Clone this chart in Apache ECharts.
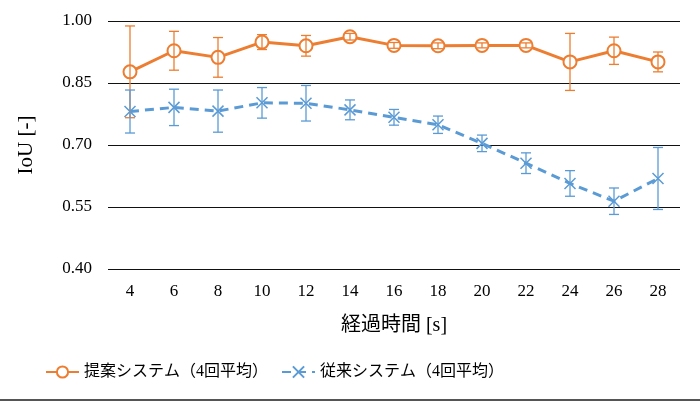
<!DOCTYPE html>
<html>
<head>
<meta charset="utf-8">
<script src="https://cdn.jsdelivr.net/npm/echarts@6/dist/echarts.min.js"></script>
<style>
html,body{margin:0;padding:0;background:#fff;}
#chart{width:700px;height:401px;}
</style>
</head>
<body>
<div id="chart"></div>
<script>
const times = ['4','6','8','10','12','14','16','18','20','22','24','26','28'];
const proposedMean = [0.877,0.928,0.912,0.949,0.940,0.962,0.941,0.940,0.941,0.941,0.901,0.928,0.901];
const proposedErr  = [0.111,0.047,0.048,0.018,0.025,0.008,0.007,0.007,0.006,0.006,0.069,0.033,0.024];
const conventionalMean = [0.781,0.791,0.782,0.802,0.801,0.785,0.767,0.749,0.704,0.656,0.607,0.564,0.619];
const conventionalErr  = [0.052,0.044,0.051,0.037,0.043,0.024,0.019,0.021,0.020,0.025,0.031,0.032,0.075];
const yTicks = {min:0.40, max:1.00, interval:0.15};
const seriesNames = ['提案システム（4回平均）','従来システム（4回平均）'];

const ORANGE = '#ED7D31';
const BLUE = '#5B9BD5';
const FONT = '"Liberation Serif", "Noto Sans CJK JP", serif';

function errData(mean, err){
  return mean.map((m,i)=>[i, m-err[i], m+err[i]]);
}
function errRender(color){
  return function(params, api){
    const x = api.value(0);
    const lo = api.coord([x, api.value(1)]);
    const hi = api.coord([x, api.value(2)]);
    const hw = 5;
    const st = {stroke: color, lineWidth: 1.3};
    return {type:'group', children:[
      {type:'line', shape:{x1:lo[0],y1:lo[1],x2:hi[0],y2:hi[1]}, style:st},
      {type:'line', shape:{x1:lo[0]-hw,y1:lo[1],x2:lo[0]+hw,y2:lo[1]}, style:st},
      {type:'line', shape:{x1:hi[0]-hw,y1:hi[1],x2:hi[0]+hw,y2:hi[1]}, style:st}
    ]};
  };
}

const chart = echarts.init(document.getElementById('chart'));
chart.setOption({
  animation:false,
  backgroundColor:'#fff',
  textStyle:{fontFamily:FONT, color:'#000'},
  grid:{left:108,right:20,top:21,bottom:132},
  legend:{
    data:seriesNames,
    left:40, top:359,
    itemWidth:33, itemHeight:14, itemGap:13,
    textStyle:{fontFamily:FONT, fontSize:16, color:'#000'}
  },
  xAxis:{
    type:'category', data:times,
    axisLine:{show:false}, axisTick:{show:false},
    axisLabel:{fontFamily:FONT, fontSize:17, color:'#000', margin:14},
    name:'経過時間 [s]', nameLocation:'middle', nameGap:47,
    nameTextStyle:{fontFamily:FONT, fontSize:20, color:'#000'}
  },
  yAxis:{
    type:'value', min:yTicks.min, max:yTicks.max, interval:yTicks.interval,
    axisLine:{show:false}, axisTick:{show:false},
    axisLabel:{fontFamily:FONT, fontSize:17, color:'#000', margin:16,
      formatter:v=>v.toFixed(2)},
    splitLine:{lineStyle:{color:'#111', width:1.2}},
    name:'IoU [-]', nameLocation:'middle', nameGap:71,
    nameTextStyle:{fontFamily:FONT, fontSize:21, color:'#000'}
  },
  series:[
    {
      name:seriesNames[0], type:'line', data:proposedMean,
      symbol:'emptyCircle', symbolSize:13,
      lineStyle:{color:ORANGE, width:3},
      itemStyle:{color:ORANGE, borderColor:ORANGE, borderWidth:1.5},
      z:3
    },
    {
      name:seriesNames[1], type:'line', data:conventionalMean,
      symbol:'path://M0 0L10 10M10 0L0 10', symbolSize:11,
      lineStyle:{color:BLUE, width:3, type:[9,6]},
      itemStyle:{color:'transparent', borderColor:BLUE, borderWidth:1.5},
      z:3
    },
    {
      type:'custom', name:'errP', renderItem:errRender(ORANGE),
      data:errData(proposedMean, proposedErr), z:4, silent:true
    },
    {
      type:'custom', name:'errC', renderItem:errRender(BLUE),
      data:errData(conventionalMean, conventionalErr), z:4, silent:true
    }
  ],
  graphic:[
    {type:'rect', left:0, top:399, shape:{width:700, height:2}, style:{fill:'#555'}}
  ]
});
</script>
</body>
</html>
